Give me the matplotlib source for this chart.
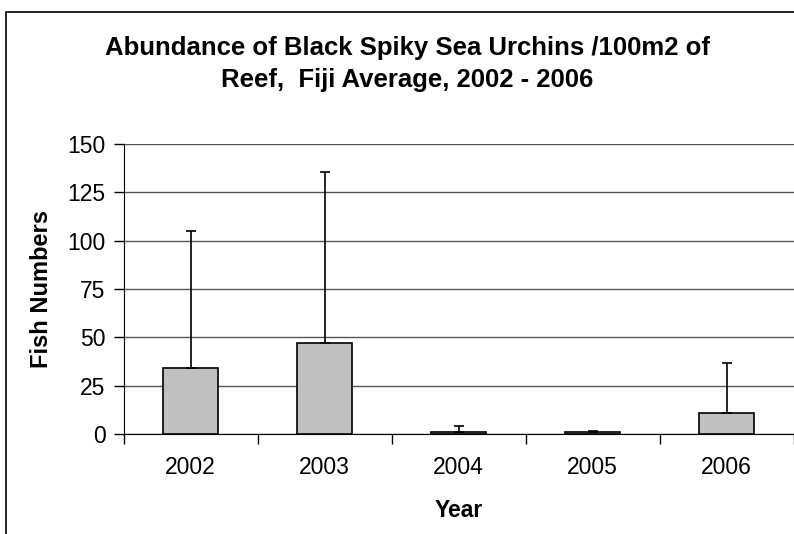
"""
Black spiky sea urchin abundance, Fiji average 2002-2006
"""
import matplotlib
matplotlib.use('Agg')
import matplotlib.pyplot as plt
from matplotlib.patches import Rectangle

plt.rcParams['font.family'] = ['Liberation Sans', 'DejaVu Sans']

# data
years = ['2002', '2003', '2004', '2005', '2006']
mean_count = [34.0, 47.2, 0.9, 1.0, 11.0]
upper_err = [71.0, 88.3, 3.4, 0.7, 25.5]
y_ticks = [0, 25, 50, 75, 100, 125, 150]

fig = plt.figure(figsize=(7.94, 5.34), dpi=100)

# outer chart frame (cut off on right and bottom like the screenshot)
fig.patches.append(Rectangle((6 / 794, -0.05), 1.2, 1 - 11.5 / 534 + 0.05,
                             transform=fig.transFigure, fill=False,
                             edgecolor='black', linewidth=1.2))

ax = fig.add_axes([123.5 / 794, 100 / 534, 670 / 794, 290 / 534])

x = range(len(years))
ax.bar(x, mean_count, width=0.41, color='#c0c0c0', edgecolor='black',
       linewidth=1.2, zorder=3)
ax.errorbar(x, mean_count, yerr=[[0] * len(years), upper_err], fmt='none',
            ecolor='black', elinewidth=1.2, capsize=3.6, capthick=1.2, zorder=4)

ax.set_xlim(-0.5, 4.5)
ax.set_ylim(0, 150)
ax.set_yticks(y_ticks)
ax.set_xticks(x)
ax.set_xticklabels(years)
ax.set_xticks([i - 0.5 for i in range(len(years) + 1)], minor=True)
ax.tick_params(axis='x', which='major', length=0, pad=16, labelsize=16.5)
ax.tick_params(axis='x', which='minor', length=7, width=1, direction='out')
ax.tick_params(axis='y', length=7, width=1, direction='out', labelsize=16.5, pad=6)

ax.yaxis.grid(True, color='#555555', linewidth=1, zorder=0)
ax.set_axisbelow(True)

ax.spines['top'].set_visible(False)
ax.spines['right'].set_visible(False)

ax.set_xlabel('Year', fontsize=16.5, fontweight='bold')
ax.xaxis.set_label_coords(0.5, -0.224)
ax.set_ylabel('Fish Numbers', fontsize=17, fontweight='bold')
ax.yaxis.set_label_coords(-0.105, 0.5)

fig.text(0.5126, 1 - 55 / 534, 'Abundance of Black Spiky Sea Urchins /100m2 of',
         ha='center', va='baseline', fontsize=18.5, fontweight='bold')
fig.text(0.5126, 1 - 87 / 534, 'Reef,  Fiji Average, 2002 - 2006',
         ha='center', va='baseline', fontsize=18.5, fontweight='bold')

plt.savefig('out.png', dpi=100)
